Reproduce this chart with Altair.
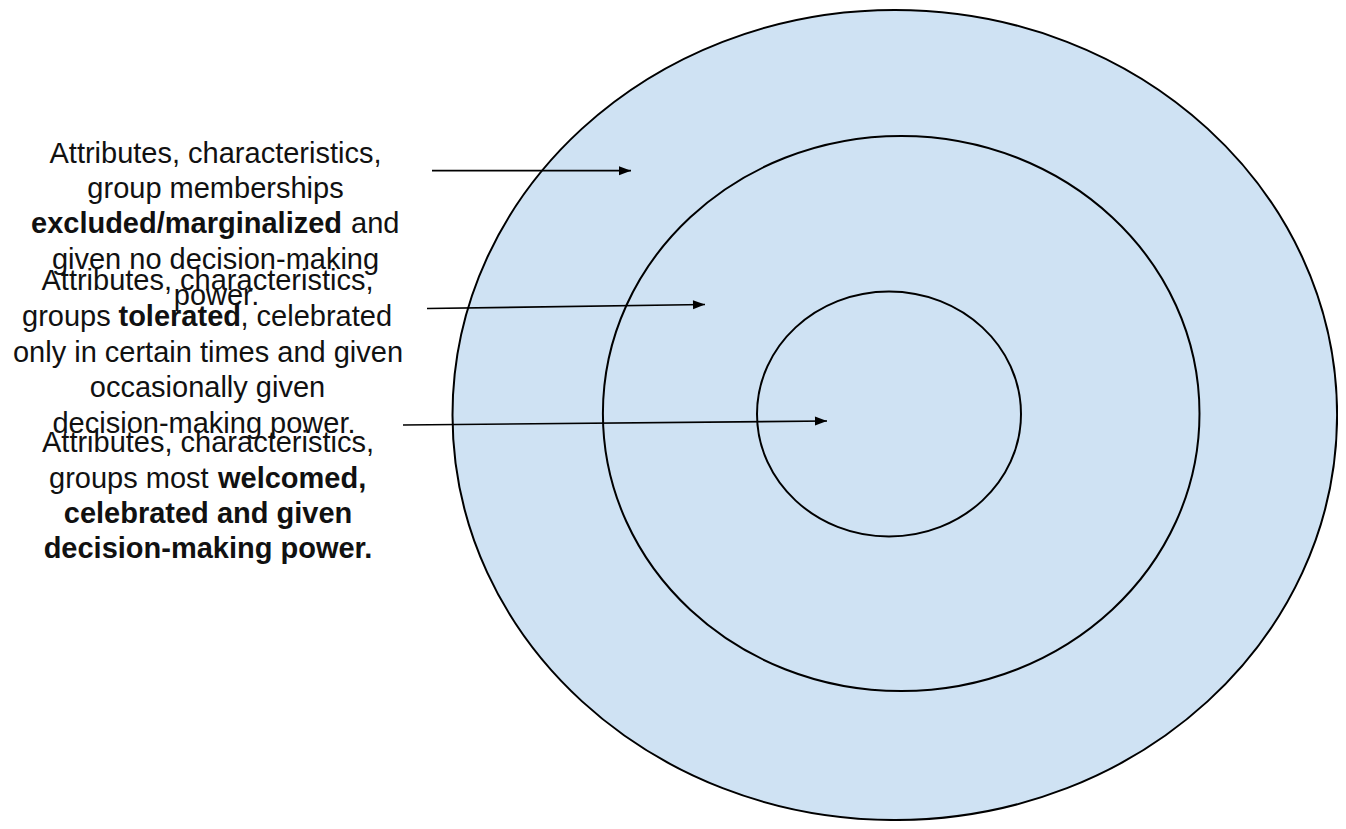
import altair as alt
import pandas as pd
import math

# ---- concentric rings (picture pixel units) ----
ring_names = ["outer", "middle", "inner"]
ring_cx = [894.8, 901.2, 889.0]
ring_cy = [415.0, 413.5, 414.0]
ring_rx = [442.3, 298.3, 132.0]
ring_ry = [405.0, 277.5, 122.5]

# ---- arrows ----
arrow_x1 = [432.0, 427.0, 403.0]
arrow_y1 = [170.7, 308.5, 425.0]
arrow_x2 = [631.0, 705.0, 827.0]
arrow_y2 = [170.7, 304.5, 421.0]

# ---- labels ----
label_text = [
    "Attributes, characteristics,", "group memberships", "excluded/marginalized", "and",
    "given no decision-making", "power.",
    "Attributes, characteristics,", "groups", "tolerated", ", celebrated",
    "only in certain times and given", "occasionally given", "decision-making power.",
    "Attributes, characteristics,", "groups most", "welcomed,",
    "celebrated and given", "decision-making power.",
]
label_x = [215.5, 215.5, 31, 351, 215.5, 216.5,
           207.5, 22, 118.5, 240.5, 208, 207.5, 204,
           208, 49, 218, 208, 208]
label_y = [163, 198, 233, 233, 269, 305,
           290, 326, 326, 326, 362, 397, 433,
           452, 488, 488, 523, 558]
label_weight = ["normal", "normal", "bold", "normal", "normal", "normal",
                "normal", "normal", "bold", "normal", "normal", "normal", "normal",
                "normal", "normal", "bold", "bold", "bold"]
label_align = ["center", "center", "left", "left", "center", "center",
               "center", "left", "left", "left", "center", "center", "center",
               "center", "left", "left", "center", "center"]


def ellipse_path(ratio):
    k = 0.5523
    a, b = k, k * ratio
    r = ratio
    return (f"M-1,0 C-1,{-b:.4f} {-a:.4f},{-r:.4f} 0,{-r:.4f} "
            f"C{a:.4f},{-r:.4f} 1,{-b:.4f} 1,0 "
            f"C1,{b:.4f} {a:.4f},{r:.4f} 0,{r:.4f} "
            f"C{-a:.4f},{r:.4f} -1,{b:.4f} -1,0 Z")


rings = pd.DataFrame({
    "name": ring_names, "cx": ring_cx, "cy": ring_cy,
    "size": [(2 * rx) ** 2 for rx in ring_rx],
    "shape": [ellipse_path(ry / rx) for rx, ry in zip(ring_rx, ring_ry)],
})

arrows = pd.DataFrame({"x1": arrow_x1, "y1": arrow_y1, "x2": arrow_x2, "y2": arrow_y2})
arrows["angle"] = [
    math.degrees(math.atan2(y2 - y1, x2 - x1)) % 360
    for x1, y1, x2, y2 in zip(arrow_x1, arrow_y1, arrow_x2, arrow_y2)
]

labels = pd.DataFrame({"text": label_text, "x": label_x, "y": label_y,
                       "weight": label_weight, "align": label_align})

W, H = 1330, 813
xs = alt.Scale(domain=[8, 8 + W], nice=False, zero=False)
ys = alt.Scale(domain=[8, 8 + H], reverse=True, nice=False, zero=False)

ring_layer = alt.Chart(rings).mark_point(
    filled=True, fill="#cfe2f3", stroke="#000000", strokeWidth=2, opacity=1
).encode(
    x=alt.X("cx:Q", scale=xs, axis=None),
    y=alt.Y("cy:Q", scale=ys, axis=None),
    size=alt.Size("size:Q", scale=None, legend=None),
    shape=alt.Shape("shape:N", scale=None, legend=None),
)

line_layer = alt.Chart(arrows).mark_rule(color="#000000", strokeWidth=1.7).encode(
    x=alt.X("x1:Q", scale=xs, axis=None),
    y=alt.Y("y1:Q", scale=ys, axis=None),
    x2="x2:Q",
    y2="y2:Q",
)

head_layer = alt.Chart(arrows).mark_point(
    filled=True, color="#000000", opacity=1, strokeWidth=0,
    shape="M0,0 L-2,-0.75 L-2,0.75 Z", size=144,
).encode(
    x=alt.X("x2:Q", scale=xs, axis=None),
    y=alt.Y("y2:Q", scale=ys, axis=None),
    angle=alt.Angle("angle:Q", scale=None),
)


def text_layer(weight, align):
    return alt.Chart(labels).transform_filter(
        (alt.datum.weight == weight) & (alt.datum.align == align)
    ).mark_text(
        font="Liberation Sans", fontSize=29, fontWeight=weight, align=align,
        baseline="alphabetic", color="#111111",
    ).encode(
        x=alt.X("x:Q", scale=xs, axis=None),
        y=alt.Y("y:Q", scale=ys, axis=None),
        text="text:N",
    )


chart = alt.layer(
    ring_layer, line_layer, head_layer,
    text_layer("normal", "center"), text_layer("normal", "left"),
    text_layer("bold", "center"), text_layer("bold", "left"),
).properties(
    width=W, height=H, padding=0,
    autosize=alt.AutoSizeParams(type="none"),
).configure_view(strokeWidth=0)

chart.save("out.html", embed_options={"renderer": "svg", "actions": False})
